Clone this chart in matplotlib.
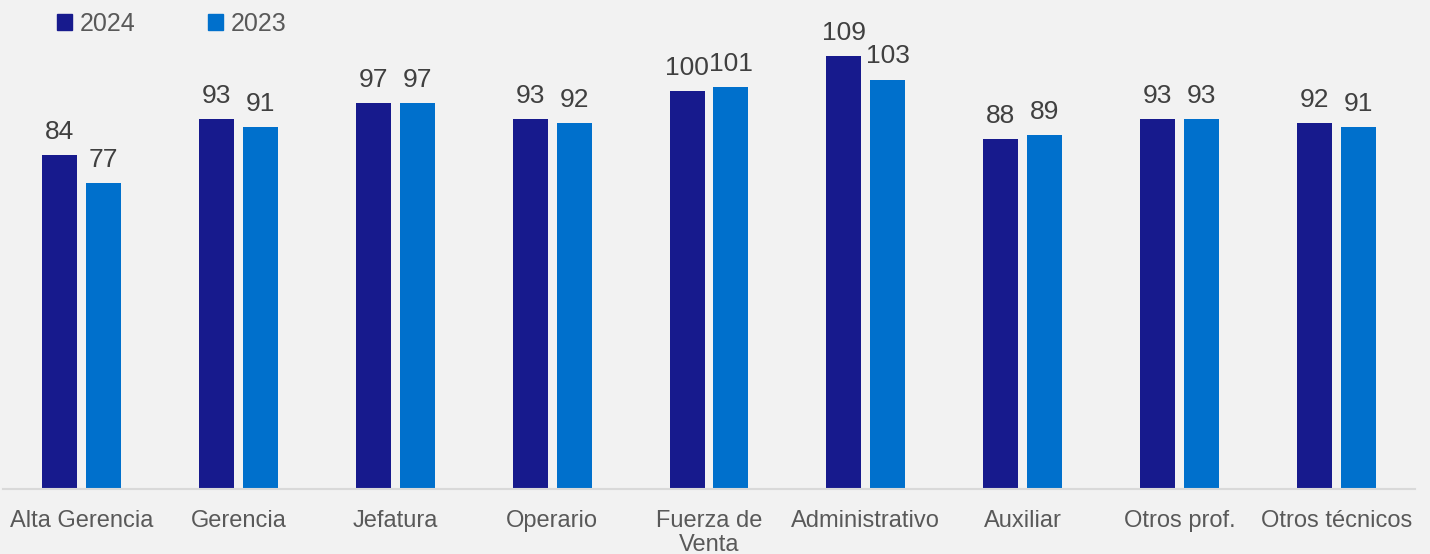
import numpy as np
import matplotlib
matplotlib.use("Agg")
import matplotlib.pyplot as plt
from matplotlib.patches import Patch

plt.rcParams['font.family'] = ['Liberation Sans', 'DejaVu Sans']

# --- Data ---
categories = ["Alta Gerencia", "Gerencia", "Jefatura", "Operario", "Fuerza de\nVenta",
              "Administrativo", "Auxiliar", "Otros prof.", "Otros técnicos"]
values_2024 = [84, 93, 97, 93, 100, 109, 88, 93, 92]
values_2023 = [77, 91, 97, 92, 101, 103, 89, 93, 91]
series_names = ["2024", "2023"]

# --- Style ---
BG = '#f2f2f2'
C_2024 = '#171a8d'
C_2023 = '#0070cc'
TXT = '#595959'
VAL = '#404040'

fig = plt.figure(figsize=(14.3, 5.54), dpi=100)
fig.patch.set_facecolor(BG)
ax = fig.add_axes([3 / 1430, 1 - 489 / 554, 1412 / 1430, 489 / 554])
ax.set_facecolor(BG)

x = np.arange(len(categories))
w = 0.223
off = 0.14
b1 = ax.bar(x - off, values_2024, w, color=C_2024)
b2 = ax.bar(x + off, values_2023, w, color=C_2023)

for bars, vals in ((b1, values_2024), (b2, values_2023)):
    for rect, v in zip(bars, vals):
        ax.annotate(str(v), (rect.get_x() + rect.get_width() / 2, rect.get_height()),
                    xytext=(0, 8), textcoords='offset points', ha='center', va='bottom',
                    fontsize=19, color=VAL)

ax.set_xlim(-0.5, len(categories) - 0.5)
ax.set_ylim(0, 123)
ax.set_yticks([])
ax.set_xticks(x)
ax.set_xticklabels(categories, fontsize=17, color=TXT, linespacing=1.15)
ax.tick_params(axis='x', length=0, pad=15)
for s in ['top', 'right', 'left']:
    ax.spines[s].set_visible(False)
ax.spines['bottom'].set_color('#d9d9d9')
ax.spines['bottom'].set_linewidth(1.5)

handles = [Patch(color=C_2024), Patch(color=C_2023)]
leg = fig.legend(handles, series_names, loc='center left', bbox_to_anchor=(57 / 1430, 1 - 24 / 554),
                 ncol=2, frameon=False, fontsize=18, handlelength=0.6, handleheight=0.6,
                 handletextpad=0.3, columnspacing=2.9, borderaxespad=0, borderpad=0)
for t in leg.get_texts():
    t.set_color(TXT)

fig.savefig('out.png', dpi=100, facecolor=BG)
